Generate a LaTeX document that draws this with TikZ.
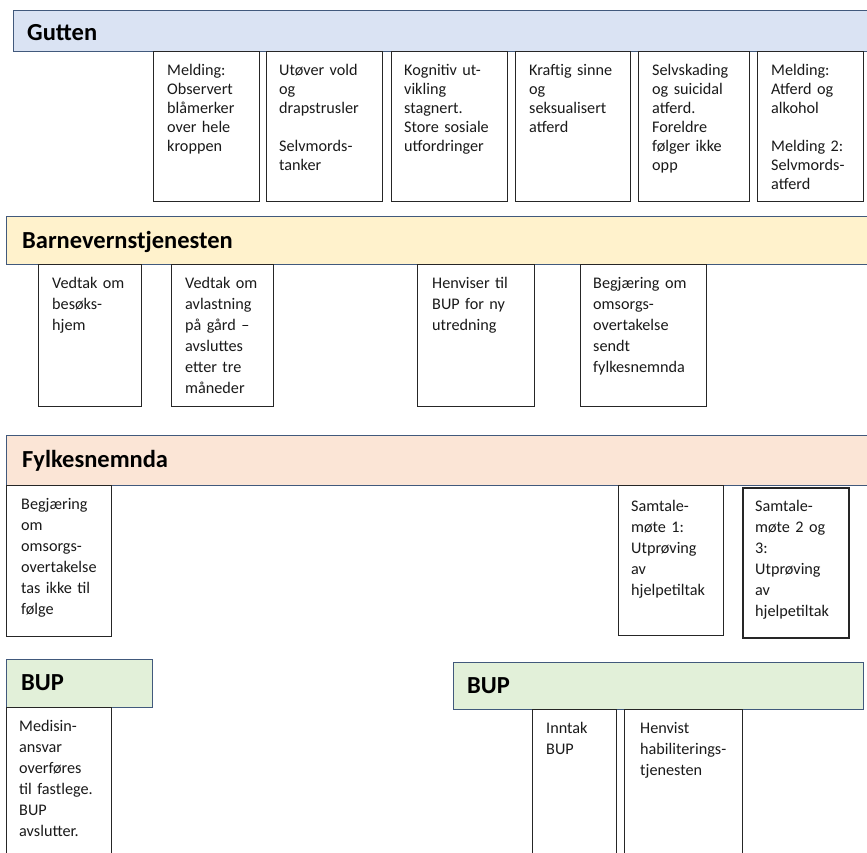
\documentclass[tikz,border=0pt]{standalone}
\usepackage{fontspec}
\setmainfont{Carlito}
\usetikzlibrary{positioning}
\definecolor{guttenbg}{HTML}{DAE3F3}
\definecolor{bvtbg}{HTML}{FFF2CC}
\definecolor{fnbg}{HTML}{FBE5D6}
\definecolor{bupbg}{HTML}{E2F0D9}
\definecolor{bandline}{HTML}{41597C}
\definecolor{boxline}{HTML}{262626}
\definecolor{inktext}{HTML}{1A1A1A}

\begin{document}
\begin{tikzpicture}[x=1pt, y=-1pt,
  band/.style={draw=bandline, line width=1.2pt, anchor=north west, inner sep=0pt},
  bandtitle/.style={anchor=base west, inner sep=0pt, text=black,
    font=\fontsize{24.5}{28}\selectfont\bfseries},
  evbox/.style={draw=boxline, line width=1.1pt, anchor=north west, inner sep=0pt, fill=white},
  evtext/.style={anchor=base west, inner sep=0pt, text=inktext, align=left,
    text width=110pt, font=\fontsize{16.2}{21}\selectfont},
  guttentext/.style={evtext, font=\fontsize{16.2}{19}\selectfont},
]
  \useasboundingbox (0,0) rectangle (867,853);
  \clip (0,0) rectangle (867,853);

  % Gutten
  \node[band, fill=guttenbg, minimum width=860pt, minimum height=41pt] (gutten) at (12.5,10) {};
  \node[bandtitle] (guttentitle) at (27,40.5) {Gutten};
  \node[evbox, minimum width=106pt, minimum height=150pt] (g1) at (153,51) {};
  \node[evbox, minimum width=116pt, minimum height=150pt] (g2) at (266,51) {};
  \node[evbox, minimum width=116pt, minimum height=150pt] (g3) at (391,51) {};
  \node[evbox, minimum width=115pt, minimum height=150pt] (g4) at (515,51) {};
  \node[evbox, minimum width=111pt, minimum height=150pt] (g5) at (638,51) {};
  \node[evbox, minimum width=106pt, minimum height=150pt] (g6) at (757,51) {};
  \node[guttentext] (g1t) at (167,76) {Melding:\\Observert\\blåmerker\\over hele\\kroppen};
  \node[guttentext] (g2t) at (279,76) {Utøver vold\\og\\drapstrusler\\[19pt]Selvmords-\\tanker};
  \node[guttentext] (g3t) at (404,76) {Kognitiv ut-\\vikling\\stagnert.\\Store sosiale\\utfordringer};
  \node[guttentext] (g4t) at (529,76) {Kraftig sinne\\og\\seksualisert\\atferd};
  \node[guttentext] (g5t) at (652,76) {Selvskading\\og suicidal\\atferd.\\Foreldre\\følger ikke\\opp};
  \node[guttentext] (g6t) at (771,76) {Melding:\\Atferd og\\alkohol\\[19pt]Melding 2:\\Selvmords-\\atferd};

  % Barnevernstjenesten
  \node[band, fill=bvtbg, minimum width=866pt, minimum height=48pt] (bvt) at (6,216) {};
  \node[bandtitle] (bvttitle) at (22,248) {Barnevernstjenesten};
  \node[evbox, minimum width=103pt, minimum height=142pt] (b1) at (38,264) {};
  \node[evbox, minimum width=102pt, minimum height=142pt] (b2) at (171,264) {};
  \node[evbox, minimum width=117pt, minimum height=142pt] (b3) at (417,264) {};
  \node[evbox, minimum width=126pt, minimum height=142pt] (b4) at (580,264) {};
  \node[evtext] (b1t) at (52,288) {Vedtak om\\besøks-\\hjem};
  \node[evtext] (b2t) at (185,288) {Vedtak om\\avlastning\\på gård –\\avsluttes\\etter tre\\måneder};
  \node[evtext] (b3t) at (432,288) {Henviser til\\BUP for ny\\utredning};
  \node[evtext] (b4t) at (593,288) {Begjæring om\\omsorgs-\\overtakelse\\sendt\\fylkesnemnda};

  % Fylkesnemnda
  \node[band, fill=fnbg, minimum width=866pt, minimum height=50pt] (fn) at (6,435) {};
  \node[bandtitle] (fntitle) at (22,467.5) {Fylkesnemnda};
  \node[evbox, minimum width=105pt, minimum height=151pt] (f1) at (6,485) {};
  \node[evbox, minimum width=105pt, minimum height=150pt] (f2) at (618,485) {};
  \node[evbox, minimum width=106pt, minimum height=150pt, line width=1.8pt] (f3) at (742,487) {};
  \node[evtext] (f1t) at (21,509) {Begjæring\\om\\omsorgs-\\overtakelse\\tas ikke til\\følge};
  \node[evtext] (f2t) at (631,511) {Samtale-\\møte 1:\\Utprøving\\av\\hjelpetiltak};
  \node[evtext] (f3t) at (755,511) {Samtale-\\møte 2 og\\3:\\Utprøving\\av\\hjelpetiltak};

  % BUP
  \node[band, fill=bupbg, minimum width=146pt, minimum height=48pt] (bupa) at (6,659) {};
  \node[bandtitle] (bupatitle) at (21,690.5) {BUP};
  \node[evbox, minimum width=105pt, minimum height=160pt] (u1) at (6,707) {};
  \node[evtext] (u1t) at (19,731) {Medisin-\\ansvar\\overføres\\til fastlege.\\BUP\\avslutter.};

  \node[band, fill=bupbg, minimum width=410pt, minimum height=47pt] (bupb) at (453,662) {};
  \node[bandtitle] (bupbtitle) at (467,693) {BUP};
  \node[evbox, minimum width=84pt, minimum height=160pt] (u2) at (532,709) {};
  \node[evbox, minimum width=118pt, minimum height=160pt] (u3) at (624,709) {};
  \node[evtext] (u2t) at (546,733) {Inntak\\BUP};
  \node[evtext] (u3t) at (640,733) {Henvist\\habiliterings-\\tjenesten};
\end{tikzpicture}
\end{document}
